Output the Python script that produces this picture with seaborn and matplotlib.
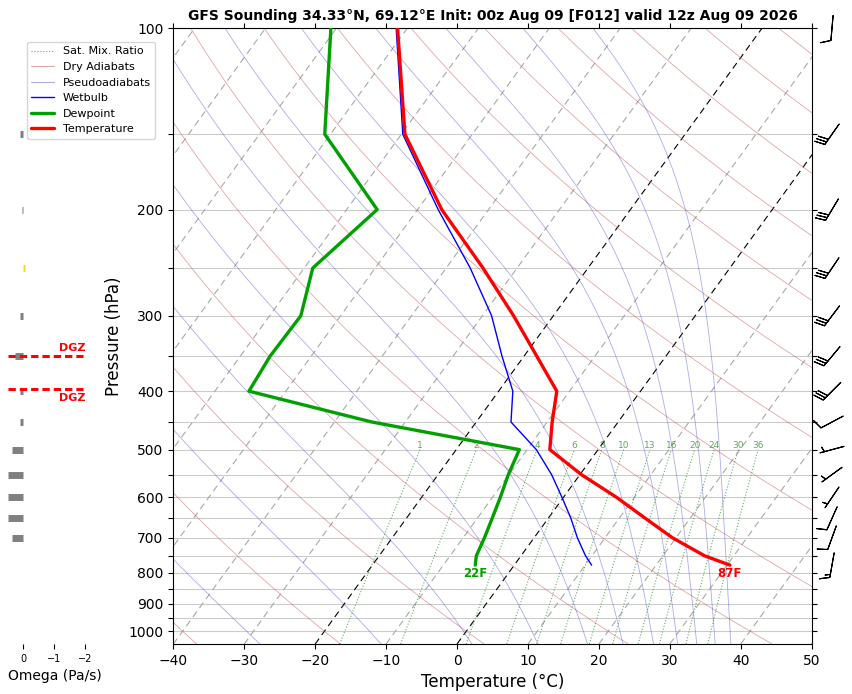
import numpy as np
import matplotlib
matplotlib.use("Agg")
import matplotlib.pyplot as plt
from matplotlib.lines import Line2D
from matplotlib.ticker import NullLocator
import seaborn as sns

TITLE = "GFS Sounding 34.33°N, 69.12°E Init: 00z Aug 09 [F012] valid 12z Aug 09 2026"

# ---- sounding profile (hPa, degC) ----
pressure = [100, 150, 200, 250, 300, 350, 400, 450, 500, 550, 600, 650, 700, 750, 777]
temperature = [-71.4, -59.5, -46.6, -34.8, -25.6, -18.2, -11.8, -9.3, -6.8, 0.2, 7.5, 13.7, 19.5, 25.9, 30.4]
dewpoint = [-80.8, -70.8, -55.7, -58.8, -55.6, -55.8, -55.2, -34.7, -11.1, -10.1, -8.9, -7.9, -7.0, -6.3, -5.5]
wetbulb = [-71.6, -59.8, -47.1, -36.6, -28.7, -23.1, -18.0, -15.1, -8.7, -4.0, -0.2, 3.2, 6.1, 9.1, 10.9]

# ---- winds (deg, kt) ----
wind_p = [100, 150, 200, 250, 300, 350, 400, 450, 500, 550, 600, 650, 700, 777]
wind_dir = [185, 215, 211, 214, 217, 220, 225, 242, 255, 234, 214, 204, 200, 190]
wind_spd = [10, 30, 30, 30, 30, 30, 30, 10, 5, 5, 5, 10, 10, 15]

# ---- omega (Pa/s) ----
omega_p = [150, 200, 250, 300, 350, 400, 450, 500, 550, 600, 650, 700]
omega = [0.10, 0.05, -0.05, 0.12, 0.26, 0.12, 0.12, 0.36, 0.49, 0.49, 0.49, 0.36]

dgz_levels = [350, 397]

# ---- background line sets ----
mixing_ratios = [1, 2, 4, 6, 8, 10, 13, 16, 20, 24, 30, 36]
isotherms = list(range(-100, 51, 10))
dry_theta = list(range(-40, 261, 20))
moist_t_bottom = [-27.8, -10.7, 2.1, 11.4, 18.4, 23.4, 27.7, 31.1, 33.8, 36.4, 38.6]

P_BOT, P_TOP = 1050.0, 100.0
T_MIN, T_MAX = -40, 50
S = np.tan(np.radians(35)) * (T_MAX - T_MIN) / np.log10(P_BOT / P_TOP)


def skew(t, p):
    return np.asarray(t, float) + S * np.log10(P_BOT / np.asarray(p, float))


def es(tc):
    return 6.112 * np.exp(17.67 * tc / (tc + 243.5))


def theta_e_sat(tk, p):
    e = np.minimum(es(tk - 273.15), 0.5 * p)
    r = 622.0 * e / (p - e)
    return (tk * (1000.0 / p) ** (0.2854 * (1 - 0.00028 * r))
            * np.exp((3.376 / tk - 0.00254) * r * (1 + 0.00081 * r)))


sns.set_style("ticks", {
    "axes.edgecolor": "black", "text.color": "black", "axes.labelcolor": "black",
    "xtick.color": "black", "ytick.color": "black",
    "xtick.major.size": 3.5, "ytick.major.size": 3.5,
    "xtick.major.width": 0.8, "ytick.major.width": 0.8,
    "axes.linewidth": 1.0,
})
plt.rcParams["font.family"] = ["DejaVu Sans"]

W, H = 853, 694
fig = plt.figure(figsize=(W / 100, H / 100), dpi=100)

# omega panel (created first so the main axes and legend sit above it)
axo = fig.add_axes([8 / W, 50 / H, 93 / W, 616 / H])
axo.patch.set_alpha(0)
axo.set_yscale("log")
axo.set_ylim(P_BOT, P_TOP)
axo.set_xlim(0.5, -2.51)
colors = ["#808080" if o >= 0 else "#f0e010" for o in omega]
axo.hlines(omega_p, 0, omega, colors=colors, lw=5)
for lvl, va, dy in ((dgz_levels[0], "bottom", 2), (dgz_levels[1], "top", -3)):
    axo.plot([0.5, -1.93], [lvl, lvl], color="red", ls=(0, (2.4, 1.3)), lw=2.2)
    axo.annotate("DGZ", xy=(-2.0, lvl), xytext=(0, dy), textcoords="offset points",
                 ha="right", va=va, color="red", fontsize=8, fontweight="bold")
for s in axo.spines.values():
    s.set_visible(False)
axo.set_yticks([])
axo.yaxis.set_minor_locator(NullLocator())
axo.set_xticks([0, -1, -2])
axo.tick_params(axis="x", labelsize=7)
axo.set_xlabel("Omega (Pa/s)", fontsize=10)

ax = fig.add_axes([173.3 / W, 50 / H, 638.4 / W, 616 / H])
ax.set_yscale("log")

DRY_C = "#c05050"
MOIST_C = "#4848d0"
MIX_C = "#2a8a2a"

pgrid = np.geomspace(P_BOT, P_TOP, 160)

# isotherms
for t in isotherms:
    special = t in (0, -20)
    ax.plot(skew([t, t], [P_BOT, P_TOP]), [P_BOT, P_TOP],
            color="black" if special else "#a8a8a8", ls=(0, (6, 4)),
            lw=0.8, zorder=1.8)

# dry adiabats
for th in dry_theta:
    t = (th + 273.15) * (pgrid / 1000.0) ** 0.2857 - 273.15
    ax.plot(skew(t, pgrid), pgrid, color=DRY_C, lw=0.6, alpha=0.5, zorder=1.8)

# pseudoadiabats
for tb in moist_t_bottom:
    target = theta_e_sat(tb + 273.15, P_BOT)
    lo = np.full_like(pgrid, 140.0)
    hi = np.full_like(pgrid, 340.0)
    for _ in range(60):
        mid = 0.5 * (lo + hi)
        above = theta_e_sat(mid, pgrid) > target
        hi = np.where(above, mid, hi)
        lo = np.where(above, lo, mid)
    ax.plot(skew(0.5 * (lo + hi) - 273.15, pgrid), pgrid, color=MOIST_C,
            lw=0.6, alpha=0.45, zorder=1.8)

# saturation mixing ratio lines
pm = np.geomspace(P_BOT, 500, 60)
for w in mixing_ratios:
    e = pm * (w / 1000.0) / (0.622 + w / 1000.0)
    lg = np.log(e / 6.112)
    td = 243.5 * lg / (17.67 - lg)
    ax.plot(skew(td, pm), pm, color=MIX_C, ls=":", lw=0.8, alpha=0.7, zorder=1.8)
    ax.text(skew(td[-1], 500), 500, str(w), color=MIX_C, alpha=0.75, fontsize=6.5,
            ha="center", va="bottom", zorder=3)

# profiles
sns.lineplot(x=skew(wetbulb, pressure), y=pressure, sort=False, estimator=None,
             color="blue", lw=1.0, ax=ax, zorder=5)
sns.lineplot(x=skew(dewpoint, pressure), y=pressure, sort=False, estimator=None,
             color="#00a000", lw=2.4, ax=ax, zorder=6)
sns.lineplot(x=skew(temperature, pressure), y=pressure, sort=False, estimator=None,
             color="red", lw=2.4, ax=ax, zorder=7)

# surface labels (degF)
sfc_p = pressure[-1]
for val, col in ((temperature[-1], "red"), (dewpoint[-1], "#00a000")):
    ax.annotate(f"{val * 9 / 5 + 32:.0f}F", xy=(skew(val, sfc_p), sfc_p),
                xytext=(0, -1.5), textcoords="offset points", ha="center", va="top",
                color=col, fontsize=8.5, fontweight="bold", zorder=8)

# wind barbs
d = np.radians(wind_dir)
spd = np.asarray(wind_spd, float)
u = -spd * np.sin(d)
v = -spd * np.cos(d)
ax.barbs(np.full(len(wind_p), 1.0318), wind_p, u, v, transform=ax.get_yaxis_transform(),
         clip_on=False, length=6, pivot="middle", lw=0.8, color="black")

# axes formatting
ax.set_xlim(T_MIN, T_MAX)
ax.set_ylim(P_BOT, P_TOP)
ax.yaxis.set_minor_locator(NullLocator())
yt = list(range(100, 1001, 50))
ax.set_yticks(yt)
ax.set_yticklabels([str(p) if p % 100 == 0 else "" for p in yt])
ax.set_xticks(range(T_MIN, T_MAX + 1, 10))
ax.tick_params(axis="both", labelsize=10, top=True, right=True, direction="out")
ax.grid(axis="y", color="#cccccc", lw=0.8)
ax.grid(axis="x", visible=False)
ax.set_xlabel("Temperature (°C)", fontsize=12)
ax.set_ylabel("Pressure (hPa)", fontsize=12)
ax.set_title(TITLE, fontsize=10, fontweight="bold")

handles = [
    Line2D([], [], color=MIX_C, ls=":", lw=0.8, alpha=0.7),
    Line2D([], [], color=DRY_C, lw=0.8, alpha=0.5),
    Line2D([], [], color=MOIST_C, lw=0.8, alpha=0.45),
    Line2D([], [], color="blue", lw=1.0),
    Line2D([], [], color="#00a000", lw=2.4),
    Line2D([], [], color="red", lw=2.4),
]
labels = ["Sat. Mix. Ratio", "Dry Adiabats", "Pseudoadiabats", "Wetbulb", "Dewpoint", "Temperature"]
fig.legend(handles, labels, loc="upper left", bbox_to_anchor=(27 / W, 1 - 42 / H),
           bbox_transform=fig.transFigure, borderaxespad=0, fontsize=8, frameon=True)

fig.savefig("out.png", dpi=100)
